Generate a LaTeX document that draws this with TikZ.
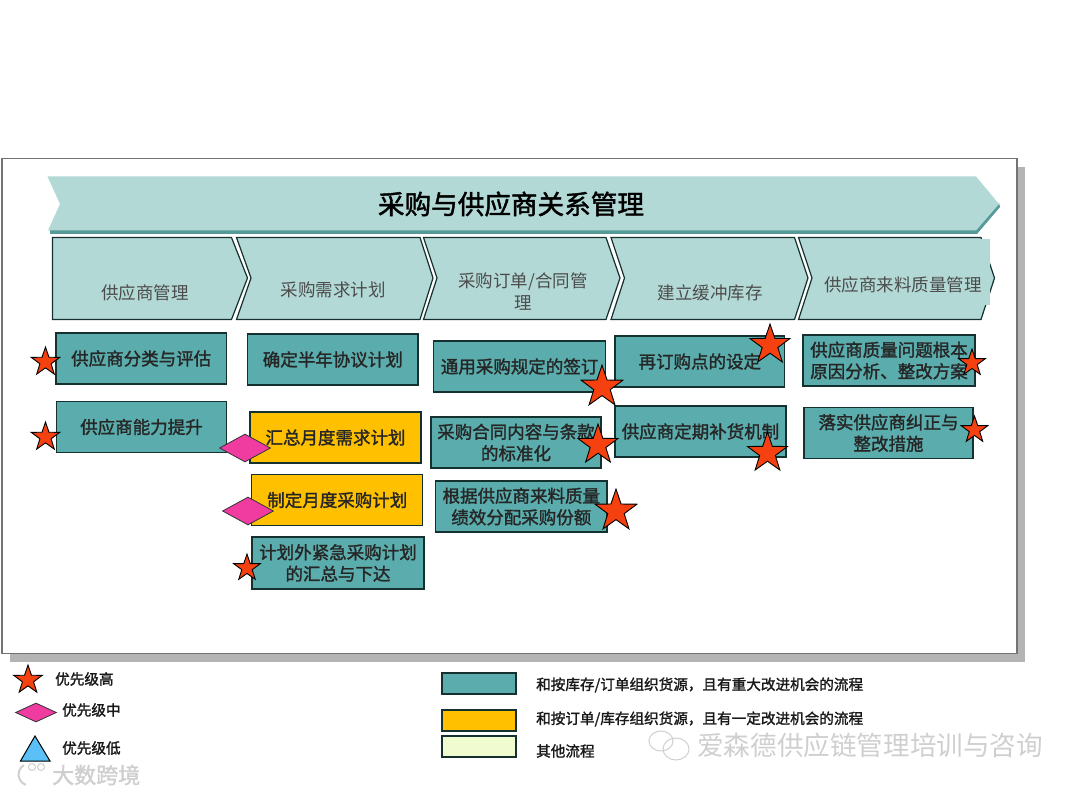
\documentclass[tikz,border=0pt]{standalone}
\usepackage{fontspec}
\setmainfont{Noto Sans CJK SC}
\newfontfamily\semibold[FakeBold=1.6]{Noto Sans CJK SC}
\usepackage{xcolor}
\usetikzlibrary{shapes.geometric, positioning}
\definecolor{tealbg}{HTML}{5BADAD}
\definecolor{palebg}{HTML}{B2D9D6}
\definecolor{bandedge}{HTML}{559A98}
\definecolor{inkline}{HTML}{14302F}
\definecolor{midorange}{HTML}{FFC000}
\definecolor{otherbg}{HTML}{F0FBCF}
\definecolor{starred}{HTML}{F5400F}
\definecolor{midpink}{HTML}{F03BA0}
\definecolor{lowblue}{HTML}{5BC0F8}
\definecolor{shadowgrey}{HTML}{B4B4B4}
\definecolor{markgrey}{HTML}{CFCFCF}
\tikzset{
  procbox/.style={draw=inkline, line width=1.2pt, inner sep=0pt, align=center, text=black!85,
    font=\fontsize{17.5}{21.5}\selectfont\semibold},
  tealbox/.style={procbox, fill=tealbg},
  orangebox/.style={procbox, fill=midorange},
  chevlabel/.style={align=center, inner sep=0pt, text=black!70, font=\fontsize{17.5}{21.5}\selectfont},
  chevshape/.style={draw=inkline, line width=1.2pt, fill=palebg},
  starhigh/.style={star, star points=5, star point ratio=2.55, draw=black, line width=0.9pt, fill=starred, inner sep=0pt},
  diamid/.style={diamond, draw=black!80, line width=0.8pt, fill=midpink, inner sep=0pt, aspect=1.8},
  legendbox/.style={draw=inkline, line width=1.2pt, inner sep=0pt, minimum width=74pt, minimum height=21pt},
  legendtext/.style={inner sep=0pt, anchor=west, text=black!90, font=\fontsize{14.6}{17}\selectfont\semibold},
  watermark/.style={inner sep=0pt, text=markgrey}
}
\begin{document}
\begin{tikzpicture}[x=1pt, y=-1pt]
\useasboundingbox (0,0) rectangle (1080,794);
\fill[shadowgrey] (10,167) rectangle (1024.5,662);
\draw[fill=white, draw=black!55, line width=1.1pt] (2,158.5) rectangle (1017,653.5);

\fill[bandedge] (50,229) -- (976,229) -- (999,203) -- (1000,207) -- (977,234) -- (50,234) -- cycle;
\fill[palebg] (47.5,176.5) -- (976,176.5) -- (999,204) -- (976,230.5) -- (48,230.5) -- (60,204) -- cycle;
\node[inner sep=0pt, text=black, font=\fontsize{26.6}{30}\selectfont\semibold] (title) at (511,204) {采购与供应商关系管理};

\draw[chevshape] (52.5,237.5) -- (231.5,237.5) -- (247.5,278) -- (231.5,319.5) -- (52.5,319.5) -- cycle;
\foreach \xa/\xb/\xc/\xd in {236.5/251/420/433, 423.5/437/606/620, 611/624.5/794.5/808, 798.5/812/981/994.5}
  \draw[chevshape] (\xa,237.5) -- (\xc,237.5) -- (\xd,278) -- (\xc,319.5) -- (\xa,319.5) -- (\xb,278) -- cycle;
\fill[palebg] (960,239) rectangle (990,305);

\node[chevlabel] (supplier) at (145,293) {供应商管理};
\node[chevlabel] (demand) at (333,290) {采购需求计划};
\node[chevlabel] (order) at (523,291.5) {采购订单/合同管\\理};
\node[chevlabel] (buffer) at (710,293) {建立缓冲库存};
\node[chevlabel] (quality) at (903,285) {供应商来料质量管理};

\node[tealbox, minimum width=170.5pt, minimum height=51pt] (classify) at (141.2,358.5) {供应商分类与评估};
\node[tealbox, minimum width=170.5pt, minimum height=51pt] (ability) at (141.5,427) {供应商能力提升};
\node[tealbox, minimum width=170.5pt, minimum height=51pt] (halfyear) at (332.8,359.5) {确定半年协议计划};
\node[orangebox, minimum width=171pt, minimum height=51pt] (collect) at (335.5,437.5) {汇总月度需求计划};
\node[orangebox, minimum width=171pt, minimum height=51pt] (monthly) at (337.3,500) {制定月度采购计划};
\node[tealbox, minimum width=172pt, minimum height=52pt] (urgent) at (338,563) {计划外紧急采购计划\\的汇总与下达};
\node[tealbox, minimum width=171.5pt, minimum height=51pt] (rules) at (519.6,366.5) {通用采购规定的签订};
\node[tealbox, minimum width=170pt, minimum height=51pt] (contract) at (516,442.5) {采购合同内容与条款\\的标准化};
\node[tealbox, minimum width=171.5pt, minimum height=51pt] (share) at (521.3,506.5) {根据供应商来料质量\\绩效分配采购份额};
\node[tealbox, minimum width=169.5pt, minimum height=51pt] (reorder) at (699.8,361.5) {再订购点的设定};
\node[tealbox, minimum width=171pt, minimum height=51pt] (refill) at (700.5,431.5) {供应商定期补货机制};
\node[tealbox, minimum width=172pt, minimum height=51pt] (rootcause) at (889,360.5) {供应商质量问题根本\\原因分析、整改方案};
\node[tealbox, minimum width=169pt, minimum height=51pt] (correct) at (888.5,433) {落实供应商纠正与\\整改措施};

\node[starhigh, minimum size=30pt] (s1) at (45.5,362) {};
\node[starhigh, minimum size=30pt] (s2) at (45.5,437) {};
\node[starhigh, minimum size=28pt] (s3) at (247,568) {};
\node[starhigh, minimum size=44pt] (s4) at (602,387) {};
\node[starhigh, minimum size=42pt] (s5) at (598,445) {};
\node[starhigh, minimum size=44pt] (s6) at (616,511) {};
\node[starhigh, minimum size=42pt] (s7) at (770,345) {};
\node[starhigh, minimum size=42pt] (s8) at (767.5,453) {};
\node[starhigh, minimum size=28pt] (s9) at (972,363) {};
\node[starhigh, minimum size=28pt] (s10) at (974.5,430) {};

\node[diamid, minimum width=51pt, minimum height=28pt] (d1) at (245,448) {};
\node[diamid, minimum width=51pt, minimum height=28pt] (d2) at (248,511) {};

\node[starhigh, minimum size=30pt] (keyhigh) at (28,680) {};
\node[diamid, minimum width=41pt, minimum height=19pt] (keymid) at (36,712.5) {};
\draw[draw=black, line width=1pt, fill=lowblue] (35,736) -- (50,761) -- (20.5,761) -- cycle;
\node[legendtext] (texthigh) at (55,679) {优先级高};
\node[legendtext] (textmid) at (62,710) {优先级中};
\node[legendtext] (textlow) at (62,748) {优先级低};

\node[legendbox, fill=tealbg] (keyteal) at (479,683.5) {};
\node[legendbox, fill=midorange] (keyorange) at (479,720.5) {};
\node[legendbox, fill=otherbg] (keyother) at (479,746.5) {};
\node[legendtext] (textteal) at (536,685) {和按库存/订单组织货源，且有重大改进机会的流程};
\node[legendtext] (textorange) at (536,719) {和按订单/库存组织货源，且有一定改进机会的流程};
\node[legendtext] (textother) at (536,751) {其他流程};

\node[watermark, anchor=west, font=\fontsize{26.6}{30}\selectfont] (markright) at (697,745) {爱森德供应链管理培训与咨询};
\node[watermark, anchor=west, font=\fontsize{22}{26}\selectfont\semibold] (markleft) at (52,775) {大数跨境};
\draw[markgrey, line width=1pt] (661,741) ellipse (12pt and 10pt);
\draw[markgrey, line width=1pt] (676,749) ellipse (13pt and 11pt);
\draw[markgrey, line width=2pt] (24,765) arc (120:250:11pt and 11pt);
\draw[markgrey, line width=1pt] (32,767) circle (3.5pt);
\draw[markgrey, line width=1pt] (41,767) circle (3.5pt);
\end{tikzpicture}
\end{document}
